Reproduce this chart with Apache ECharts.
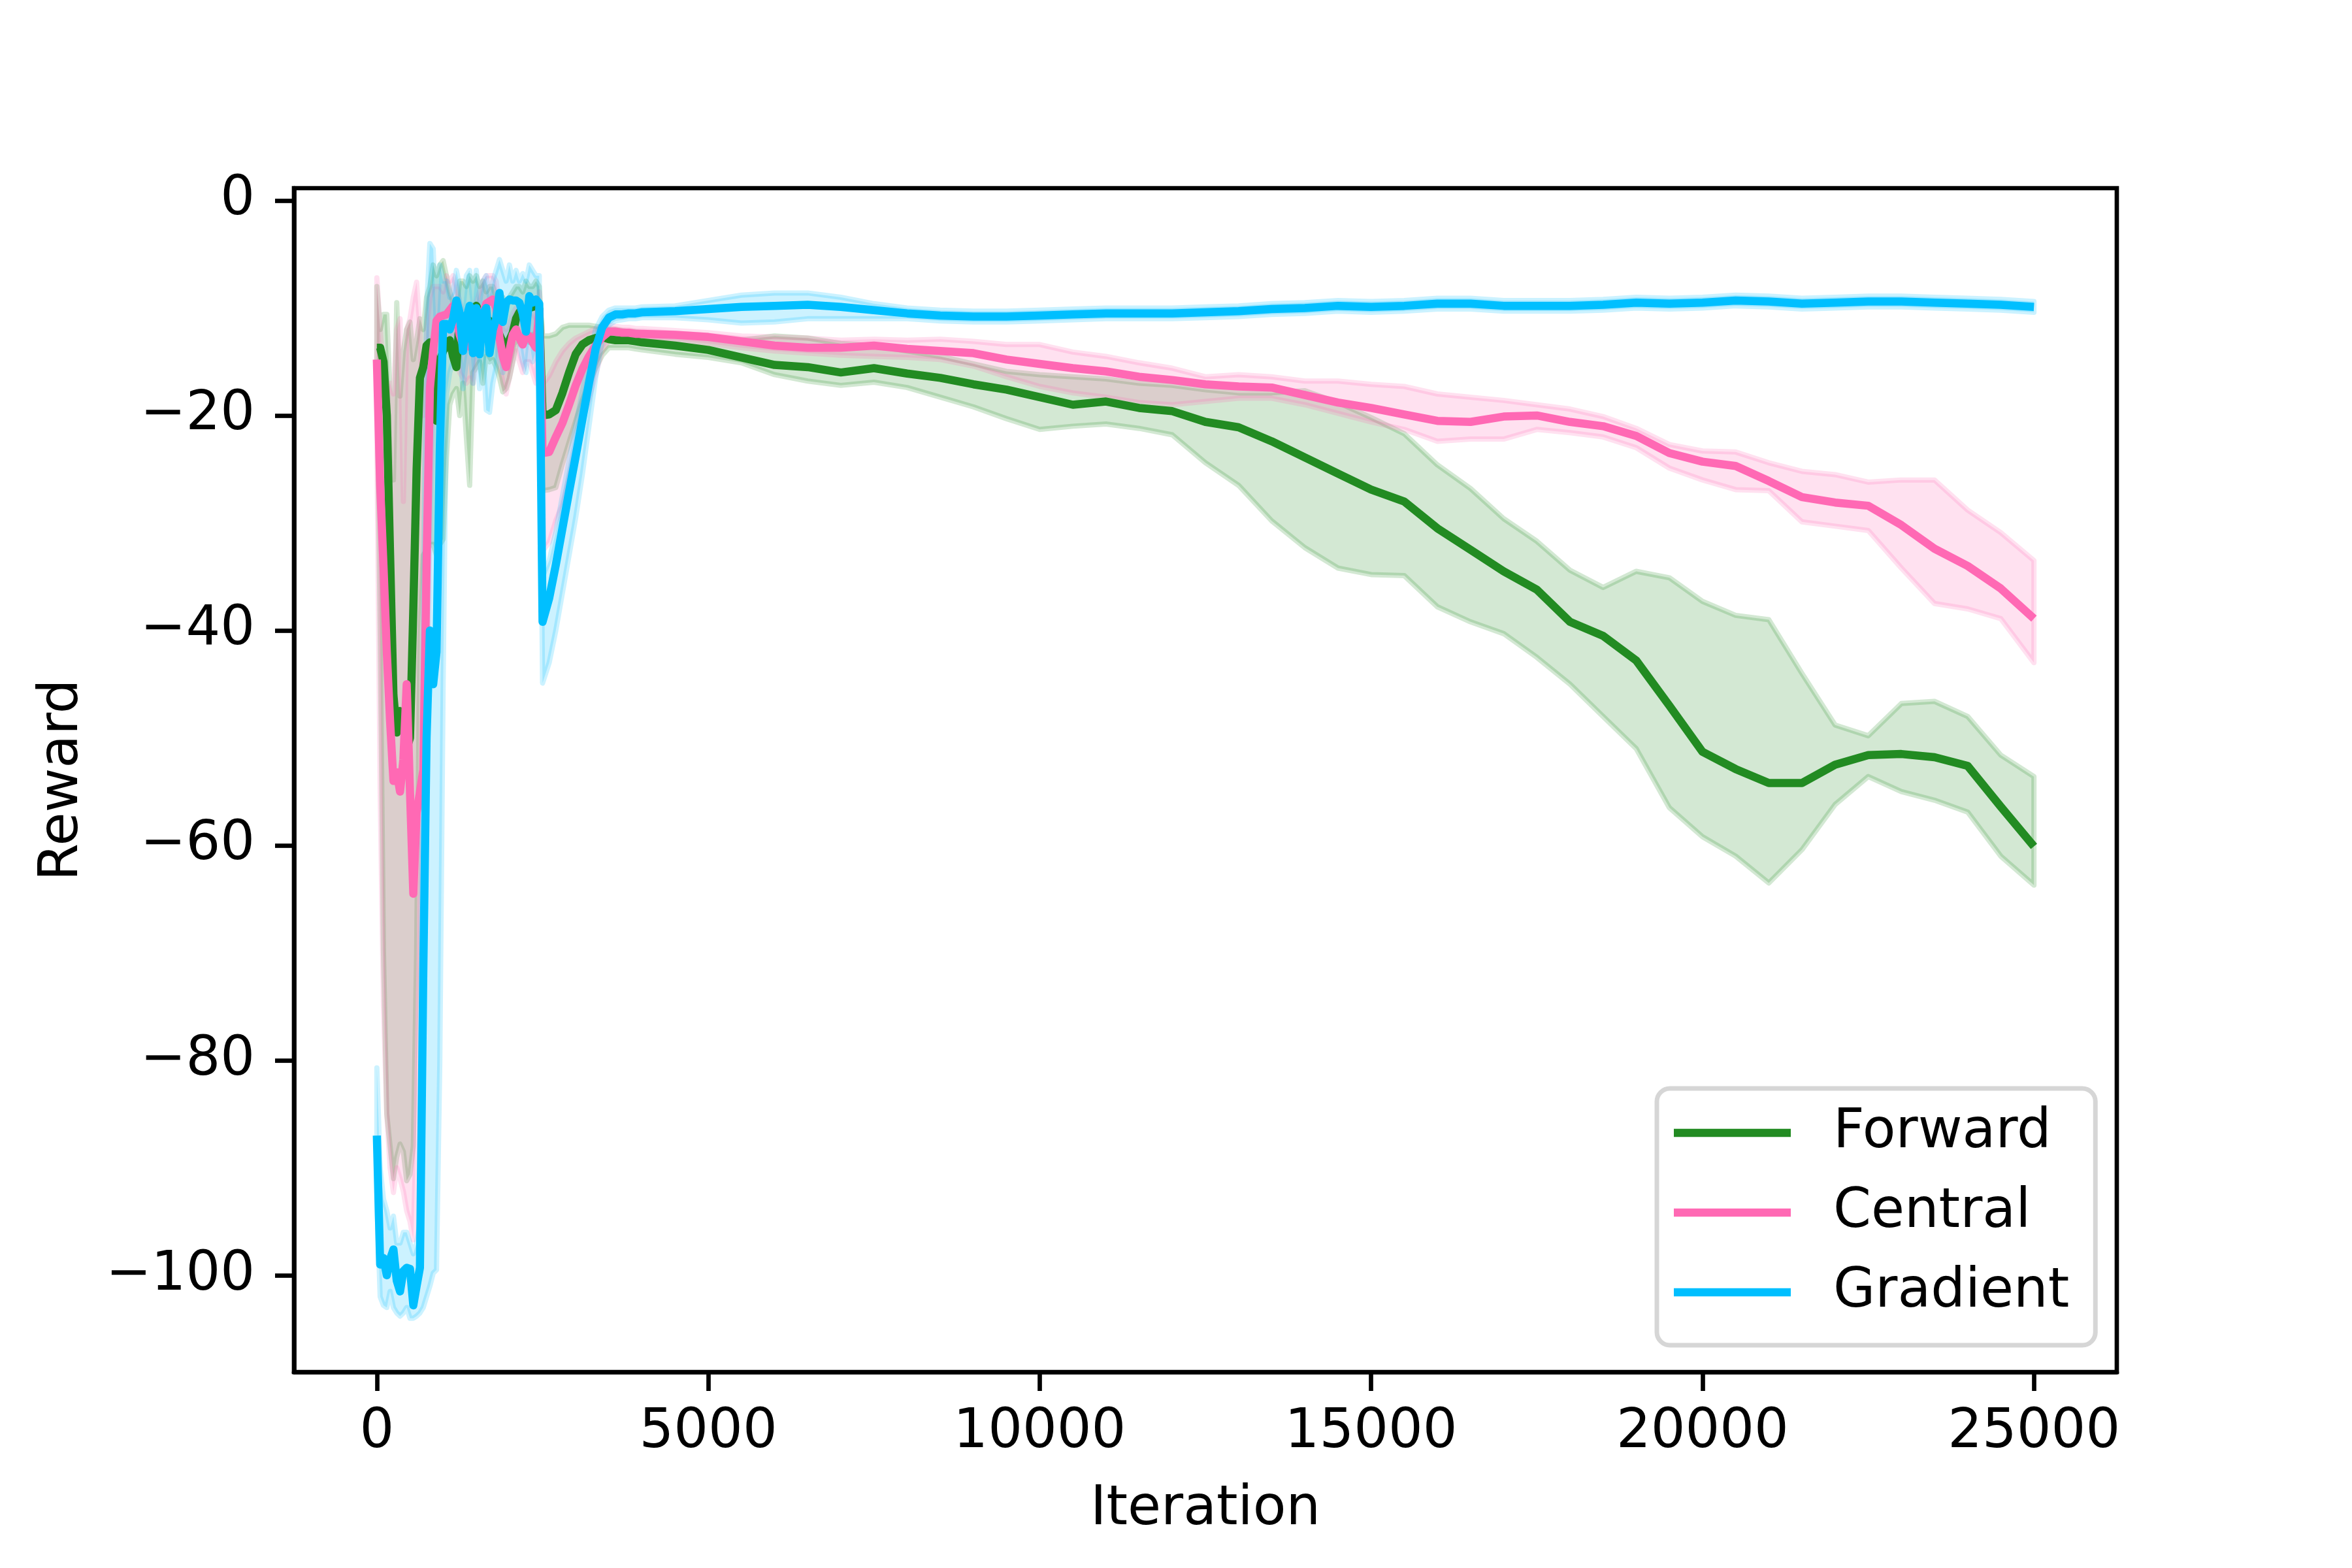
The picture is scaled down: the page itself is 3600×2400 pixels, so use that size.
<!DOCTYPE html>
<html>
<head>
<meta charset="utf-8">
<script src="https://cdn.jsdelivr.net/npm/echarts@6/dist/echarts.min.js"></script>
<style>
html,body{margin:0;padding:0;background:#ffffff;}
#chart{width:3600px;height:2400px;}
</style>
</head>
<body>
<div id="chart"></div>
<script>
// ---------- data ----------
const iterations = [
  0,50,100,150,200,250,300,350,400,450,500,550,600,650,700,750,800,850,900,950,
  1000,1050,1100,1150,1200,1250,1300,1350,1400,1450,1500,1550,1600,1650,1700,1750,1800,1850,1900,1950,
  2000,2050,2100,2150,2200,2250,2300,2350,2400,2450,2500,
  2600,2700,2800,2900,3000,3100,3200,3300,3400,3500,3600,3700,3800,3900,4000,
  4500,5000,5500,6000,6500,7000,7500,8000,8500,9000,9500,10000,10500,11000,11500,12000,12500,13000,13500,14000,
  14500,15000,15500,16000,16500,17000,17500,18000,18500,19000,19500,20000,20500,21000,21500,22000,22500,23000,23500,24000,
  24500,25000
];

const forwardMean = [
  -13.7,-13.7,-15.0,-20.0,-33.0,-46.0,-49.5,-47.5,-48.0,-51.0,
  -50.0,-38.0,-25.0,-16.5,-15.5,-13.5,-13.2,-14.5,-20.5,-15.0,
  -14.0,-13.5,-13.0,-14.5,-15.5,-11.0,-12.5,-13.0,-11.5,-10.0,
  -9.8,-10.5,-10.9,-11.0,-11.2,-11.5,-11.8,-12.5,-13.2,-13.7,
  -13.0,-12.3,-11.0,-10.4,-10.3,-10.1,-10.0,-9.9,-9.8,-10.1,
  -20.0,
  -19.9,-19.5,-17.9,-16.0,-14.3,-13.4,-13.0,-12.8,-12.7,-12.9,-13.0,-13.0,-13.0,-13.1,-13.2,
  -13.5,-13.9,-14.6,-15.3,-15.5,-16.0,-15.6,-16.1,-16.5,-17.1,-17.6,-18.3,-19.0,-18.7,-19.3,-19.6,-20.6,-21.1,-22.4,-23.9,
  -25.4,-26.9,-28.0,-30.5,-32.5,-34.5,-36.2,-39.2,-40.5,-42.8,-47.0,-51.3,-52.9,-54.2,-54.2,-52.5,-51.6,-51.5,-51.8,-52.6,
  -56.4,-60.1
];
const forwardHigh = [
  -8.0,-12.0,-10.6,-10.6,-18.0,-26.0,-9.5,-18.2,-14.0,-12.0,
  -11.3,-14.8,-13.0,-11.0,-12.0,-9.0,-8.0,-6.0,-7.0,-6.0,
  -5.6,-7.0,-8.5,-9.5,-10.0,-7.5,-7.5,-8.0,-7.0,-7.5,
  -7.0,-8.0,-7.5,-8.5,-8.0,-8.0,-9.0,-9.5,-9.0,-10.0,
  -9.0,-8.5,-8.0,-8.0,-8.5,-7.5,-8.0,-8.0,-7.5,-8.0,
  -12.6,
  -12.6,-12.4,-11.8,-11.6,-11.6,-11.6,-11.6,-11.7,-11.8,-12.0,-12.0,-12.1,-12.2,-12.2,-12.3,
  -12.5,-12.8,-13.0,-12.6,-12.8,-13.3,-13.5,-14.0,-14.5,-15.2,-15.9,-16.2,-16.4,-16.6,-17.0,-17.2,-17.6,-17.9,-17.9,-17.7,
  -18.8,-20.2,-21.7,-24.6,-26.8,-29.6,-31.7,-34.4,-36.0,-34.5,-35.1,-37.3,-38.6,-39.0,-44.0,-48.8,-49.8,-46.8,-46.6,-48.0,
  -51.6,-53.6
];
const forwardLow = [
  -16.0,-40.0,-70.0,-85.0,-88.0,-91.0,-89.0,-87.8,-88.5,-91.2,
  -90.6,-88.0,-70.0,-40.0,-33.0,-32.5,-32.0,-32.0,-33.0,-32.0,
  -31.5,-24.0,-19.0,-18.0,-17.5,-20.0,-17.0,-22.0,-26.5,-16.0,
  -15.5,-15.0,-17.0,-14.5,-15.0,-14.8,-15.5,-16.5,-17.8,-17.5,
  -16.5,-15.0,-13.5,-13.0,-12.5,-12.8,-13.2,-12.5,-12.3,-12.5,
  -27.0,
  -26.9,-26.7,-24.5,-22.5,-20.5,-18.6,-17.0,-15.6,-14.4,-13.7,-13.7,-13.7,-13.7,-13.8,-13.9,
  -14.3,-14.6,-15.1,-16.2,-16.8,-17.2,-16.9,-17.4,-18.3,-19.2,-20.3,-21.3,-21.0,-20.8,-21.2,-21.8,-24.4,-26.5,-29.8,-32.3,
  -34.2,-34.8,-34.9,-37.8,-39.2,-40.3,-42.5,-45.0,-48.0,-51.0,-56.5,-59.2,-61.0,-63.5,-60.4,-56.2,-53.6,-55.0,-55.8,-56.9,
  -61.0,-63.7
];

const centralMean = [
  -14.8,-26.5,-34.0,-42.0,-48.5,-54.0,-53.2,-55.0,-52.0,-45.0,
  -55.0,-64.5,-57.0,-55.0,-53.0,-34.0,-17.5,-14.0,-11.2,-10.8,
  -10.7,-10.6,-10.2,-9.8,-11.0,-12.5,-13.4,-13.5,-13.6,-13.5,
  -12.5,-11.5,-10.5,-9.6,-9.4,-9.2,-10.0,-12.8,-14.5,-15.5,
  -14.0,-12.5,-12.0,-12.8,-13.4,-12.5,-12.6,-13.2,-13.7,-10.2,
  -23.5,
  -23.4,-22.0,-20.7,-19.0,-17.2,-15.7,-14.5,-13.5,-12.7,-12.2,-12.2,-12.3,-12.3,-12.4,-12.4,
  -12.5,-12.7,-13.1,-13.5,-13.7,-13.7,-13.5,-13.8,-14.0,-14.2,-14.8,-15.2,-15.6,-15.9,-16.4,-16.7,-17.1,-17.3,-17.4,-18.1,
  -18.8,-19.3,-19.9,-20.5,-20.6,-20.1,-20.0,-20.6,-21.0,-21.9,-23.5,-24.3,-24.7,-26.1,-27.6,-28.1,-28.4,-30.2,-32.4,-34.0,
  -36.1,-38.9
];
const centralHigh = [
  -7.2,-12.0,-16.0,-18.0,-17.0,-18.0,-12.0,-11.0,-28.0,-12.0,
  -11.0,-9.0,-7.6,-12.0,-20.0,-12.0,-9.0,-8.0,-8.0,-8.0,
  -8.5,-7.0,-7.5,-7.0,-8.0,-9.5,-10.5,-10.5,-10.0,-10.5,
  -9.5,-8.5,-7.5,-7.0,-7.0,-7.0,-7.5,-10.0,-11.5,-12.0,
  -11.5,-10.5,-10.0,-10.0,-11.0,-10.5,-10.0,-10.5,-11.0,-8.5,
  -17.1,
  -16.3,-15.0,-14.0,-13.3,-12.8,-12.5,-12.2,-11.9,-11.7,-11.6,-11.7,-11.8,-11.8,-11.9,-11.9,
  -12.1,-12.3,-12.6,-12.7,-12.8,-13.0,-12.9,-13.0,-12.9,-13.1,-13.4,-13.4,-14.1,-14.5,-15.1,-15.6,-16.4,-16.2,-16.4,-16.8,
  -16.8,-17.1,-17.3,-18.0,-18.3,-18.6,-19.0,-19.4,-20.1,-21.2,-22.7,-23.3,-23.4,-24.4,-25.2,-25.5,-26.2,-26.0,-26.0,-28.8,
  -30.9,-33.5
];
const centralLow = [
  -22.0,-55.0,-75.0,-85.0,-90.0,-92.3,-90.0,-91.0,-92.2,-94.0,
  -95.0,-96.7,-85.0,-65.0,-58.0,-50.0,-30.0,-18.0,-14.0,-14.5,
  -14.0,-13.5,-13.0,-12.5,-13.5,-16.0,-16.5,-17.0,-16.5,-17.0,
  -15.0,-13.5,-12.5,-12.0,-11.5,-11.5,-12.5,-15.0,-17.0,-18.0,
  -16.5,-15.0,-14.0,-15.0,-16.0,-15.0,-15.0,-16.0,-17.0,-12.0,
  -32.6,
  -31.8,-29.8,-28.3,-25.8,-23.0,-20.5,-18.5,-16.2,-14.0,-13.0,-12.8,-12.9,-12.9,-13.0,-13.0,
  -13.0,-13.3,-13.7,-14.0,-14.2,-14.4,-14.5,-14.6,-14.8,-15.4,-16.4,-17.3,-17.9,-18.3,-18.8,-19.0,-18.7,-18.4,-18.4,-19.0,
  -19.8,-20.6,-21.3,-22.4,-22.2,-22.2,-21.3,-21.6,-22.0,-23.0,-24.9,-26.0,-26.9,-27.0,-29.9,-30.3,-30.7,-34.2,-37.5,-38.0,
  -38.9,-43.0
];

const gradientMean = [
  -87.0,-99.0,-98.4,-100.0,-98.5,-97.6,-100.5,-101.5,-99.6,-99.3,
  -99.4,-102.8,-101.0,-99.3,-72.0,-50.0,-40.0,-45.0,-42.0,-23.0,
  -11.5,-11.5,-12.0,-11.0,-9.3,-10.5,-14.0,-11.0,-9.8,-14.2,
  -10.0,-14.3,-10.5,-10.0,-14.2,-12.0,-11.0,-8.6,-11.3,-9.5,
  -9.2,-9.3,-9.3,-9.5,-10.5,-12.2,-8.9,-9.5,-9.2,-9.6,
  -39.2,
  -37.0,-33.9,-30.5,-27.1,-23.8,-20.4,-17.0,-13.8,-11.8,-10.9,-10.6,-10.6,-10.5,-10.5,-10.4,
  -10.3,-10.1,-9.9,-9.8,-9.7,-9.9,-10.2,-10.5,-10.7,-10.8,-10.8,-10.7,-10.6,-10.5,-10.5,-10.5,-10.4,-10.3,-10.1,-10.0,
  -9.8,-9.9,-9.8,-9.6,-9.6,-9.8,-9.8,-9.8,-9.7,-9.5,-9.6,-9.5,-9.3,-9.4,-9.6,-9.5,-9.4,-9.4,-9.5,-9.6,
  -9.7,-9.9
];
const gradientHigh = [
  -80.7,-90.0,-92.9,-94.0,-95.6,-94.5,-97.0,-97.0,-96.0,-96.0,
  -97.0,-98.0,-97.0,-95.0,-40.0,-10.0,-4.0,-4.5,-12.0,-6.0,
  -7.5,-7.5,-9.0,-8.5,-6.5,-8.0,-10.0,-7.0,-6.5,-9.5,
  -6.5,-9.5,-7.5,-7.0,-9.0,-7.5,-6.5,-5.5,-6.5,-7.5,
  -6.0,-7.5,-6.5,-7.5,-6.8,-7.5,-6.0,-6.5,-7.0,-7.0,
  -35.0,
  -33.5,-30.8,-27.5,-24.2,-21.0,-17.8,-14.8,-12.0,-10.8,-10.2,-10.0,-10.0,-10.0,-10.0,-9.9,
  -9.8,-9.3,-8.8,-8.6,-8.6,-9.0,-9.6,-10.0,-10.2,-10.3,-10.3,-10.2,-10.1,-10.0,-10.0,-10.0,-9.9,-9.8,-9.6,-9.5,
  -9.3,-9.4,-9.3,-9.1,-9.1,-9.3,-9.3,-9.3,-9.2,-9.0,-9.1,-9.0,-8.8,-8.9,-9.1,-9.0,-8.9,-8.9,-9.0,-9.1,
  -9.2,-9.4
];
const gradientLow = [
  -93.0,-102.0,-102.8,-103.0,-101.5,-103.0,-103.5,-103.8,-103.5,-103.0,
  -104.0,-104.0,-103.8,-103.5,-103.0,-102.0,-101.0,-99.8,-99.5,-80.0,
  -45.0,-18.0,-16.0,-15.0,-12.5,-14.0,-17.5,-15.0,-13.0,-17.0,
  -14.0,-17.5,-14.0,-19.5,-19.7,-17.0,-15.5,-12.5,-16.0,-13.0,
  -13.0,-12.5,-12.5,-13.0,-15.0,-16.0,-13.0,-15.0,-14.0,-12.0,
  -44.9,
  -43.0,-40.0,-36.5,-33.0,-29.5,-25.5,-21.0,-16.5,-13.0,-11.6,-11.2,-11.1,-11.0,-11.0,-10.9,
  -10.9,-11.1,-11.4,-11.3,-11.0,-11.0,-11.0,-11.0,-11.2,-11.3,-11.3,-11.2,-11.1,-11.0,-11.0,-11.0,-10.9,-10.8,-10.6,-10.5,
  -10.3,-10.4,-10.3,-10.1,-10.1,-10.3,-10.3,-10.3,-10.2,-10.0,-10.1,-10.0,-9.8,-9.9,-10.1,-10.0,-9.9,-9.9,-10.0,-10.1,
  -10.2,-10.4
];

const seriesNames = ['Forward', 'Central', 'Gradient'];
const seriesColors = ['#228B22', '#FF69B4', '#00BFFF'];
const bandColors = ['rgba(34,139,34,0.2)', 'rgba(255,105,180,0.2)', 'rgba(0,191,255,0.2)'];
const xTicks = [0, 5000, 10000, 15000, 20000, 25000];
const yTicks = [-100, -80, -60, -40, -20, 0];

// ---------- chart ----------
const FONT = 'DejaVu Sans';
const chart = echarts.init(document.getElementById('chart'), null, { renderer: 'canvas', width: 3600, height: 2400 });

function bandSeries(idx, low, high) {
  return {
    type: 'custom',
    name: seriesNames[idx] + ' band',
    silent: true,
    z: 1,
    clip: true,
    data: [[iterations[0], low[0]]],
    renderItem: function (params, api) {
      const pts = [];
      for (let i = 0; i < iterations.length; i++) pts.push(api.coord([iterations[i], high[i]]));
      for (let i = iterations.length - 1; i >= 0; i--) pts.push(api.coord([iterations[i], low[i]]));
      return {
        type: 'polygon',
        shape: { points: pts },
        style: { fill: bandColors[idx], stroke: bandColors[idx], lineWidth: 8, lineJoin: 'round' }
      };
    }
  };
}

function lineSeries(idx, mean) {
  return {
    type: 'line',
    name: seriesNames[idx],
    data: iterations.map((x, i) => [x, mean[i]]),
    symbol: 'none',
    showSymbol: false,
    z: 3,
    lineStyle: { color: seriesColors[idx], width: 12.5, join: 'round', cap: 'butt' },
    itemStyle: { color: seriesColors[idx] },
    emphasis: { disabled: true }
  };
}

const option = {
  animation: false,
  backgroundColor: '#ffffff',
  grid: {
    left: 450, right: 360, top: 288, bottom: 300,
    show: true, borderColor: '#000000', borderWidth: 6.67, backgroundColor: 'transparent'
  },
  xAxis: {
    type: 'value', min: -1250, max: 26250,
    name: 'Iteration', nameLocation: 'middle', nameGap: 170,
    nameTextStyle: { fontSize: 83, fontFamily: FONT, color: '#000' },
    axisLine: { show: true, onZero: false, lineStyle: { color: '#000', width: 6.67 } },
    axisTick: { show: true, customValues: xTicks, length: 29, lineStyle: { color: '#000', width: 6.67 } },
    axisLabel: {
      customValues: xTicks, fontSize: 83, fontFamily: FONT, color: '#000', margin: 52,
      formatter: v => String(v)
    },
    splitLine: { show: false }
  },
  yAxis: {
    type: 'value', min: -109.0, max: 1.15,
    name: 'Reward', nameLocation: 'middle', nameGap: 312, nameRotate: 90,
    nameTextStyle: { fontSize: 83, fontFamily: FONT, color: '#000' },
    axisLine: { show: true, onZero: false, lineStyle: { color: '#000', width: 6.67 } },
    axisTick: { show: true, customValues: yTicks, length: 29, lineStyle: { color: '#000', width: 6.67 } },
    axisLabel: {
      customValues: yTicks, fontSize: 83, fontFamily: FONT, color: '#000', margin: 60,
      formatter: v => (v < 0 ? '\u2212' + Math.abs(v) : String(v))
    },
    splitLine: { show: false }
  },
  legend: {
    data: seriesNames.map((n, i) => ({ name: n, icon: 'rect', itemStyle: { color: seriesColors[i] } })),
    orient: 'vertical',
    left: 2536, top: 1666,
    itemWidth: 179, itemHeight: 12.5, itemGap: 22,
    padding: [18, 40, 31, 26],
    backgroundColor: '#ffffff',
    borderColor: '#d6d6d6', borderWidth: 7, borderRadius: 20,
    selectedMode: false,
    textStyle: { fontSize: 83, fontFamily: FONT, color: '#000', lineHeight: 100, padding: [0, 0, 0, 60] }
  },
  series: [
    bandSeries(0, forwardLow, forwardHigh),
    bandSeries(1, centralLow, centralHigh),
    bandSeries(2, gradientLow, gradientHigh),
    lineSeries(0, forwardMean),
    lineSeries(1, centralMean),
    lineSeries(2, gradientMean)
  ]
};
chart.setOption(option);
</script>
</body>
</html>
